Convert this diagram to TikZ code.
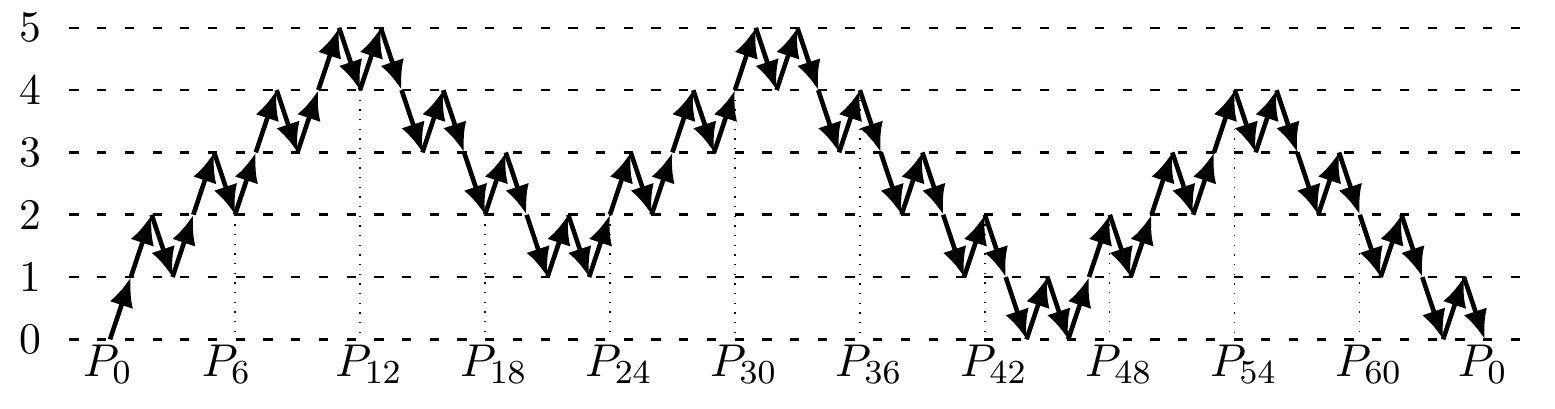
\documentclass[tikz,border=0pt]{standalone}
\usetikzlibrary{arrows.meta}
\begin{document}
\begin{tikzpicture}[x=4.96pt,y=14.84pt,
  gridline/.style={line width=0.6pt,dash pattern=on 2.2pt off 4.4pt},
  dropline/.style={line width=0.3pt,dotted},
  stepar/.style={line width=1.1pt,-{Latex[length=7pt,width=5.8pt]}},
  ylab/.style={inner sep=0pt,font=\fontsize{10.4}{12}\selectfont},
  plab/.style={anchor=north,inner sep=1.2pt,font=\fontsize{11}{13}\selectfont}]
\useasboundingbox (-5.281,-1.115) rectangle (69.37,5.446);
% grid lines and level labels
\foreach \h in {0,...,5}{
  \coordinate (gl\h) at (-1.95,\h);
  \coordinate (gr\h) at (67.8,\h);
  \draw[gridline] (gl\h) -- (gr\h);
  \node[ylab] (y\h) at (-3.82,\h) {\h};
}
% path points
\foreach \h [count=\i from 0] in {0,1,2,1,2,3,2,3,4,3,4,5,4,5,4,3,4,3,2,3,2,1,2,1,2,3,2,3,4,3,4,5,4,5,4,3,4,3,2,3,2,1,2,1,0,1,0,1,2,1,2,3,2,3,4,3,4,3,2,3,2,1,2,1,0,1,0}{
  \coordinate (p\i) at (\i,\h);
}
% dotted drop lines
\foreach \k in {6,12,...,60}{
  \coordinate (b\k) at (\k,0);
  \draw[dropline] (p\k) -- (b\k);
}
% steps
\foreach \i in {0,...,65}{
  \pgfmathtruncatemacro{\j}{\i+1}
  \draw[stepar] (p\i) -- (p\j);
}
% point labels
\node[plab] (lab0) at (-0.1,0) {$P_{0}$};
\node[plab] (lab6) at (5.6,0) {$P_{6}$};
\foreach \k in {12,18,...,60}{
  \node[plab] (lab\k) at (\k+0.43,0) {$P_{\k}$};
}
\node[plab] (labend) at (65.9,0) {$P_{0}$};
\end{tikzpicture}
\end{document}
